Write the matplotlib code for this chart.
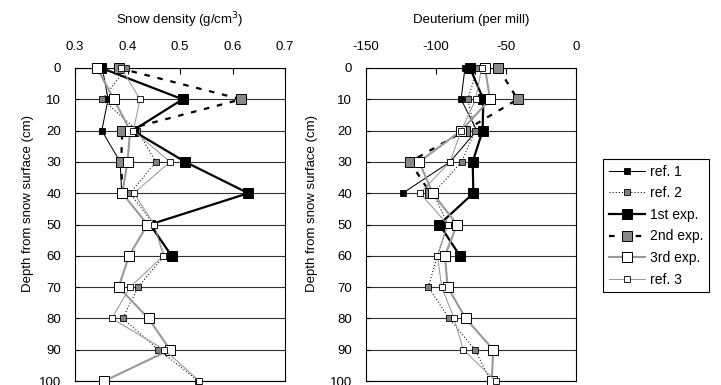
import numpy as np
import matplotlib
matplotlib.use("Agg")
import matplotlib.pyplot as plt

plt.rcParams['font.family'] = ['Liberation Sans', 'DejaVu Sans']
plt.rcParams['axes.unicode_minus'] = False

nan = np.nan
depth = [0, 10, 20, 30, 40, 50, 60, 70, 80, 90, 100]

# Snow density (g/cm3)
dens_ref1 = [0.352, 0.363, 0.351, 0.386, 0.389, nan, nan, nan, nan, nan, nan]
dens_ref2 = [0.398, 0.352, 0.419, 0.454, 0.405, 0.450, 0.470, 0.420, 0.391, 0.459, 0.535]
dens_exp1 = [0.350, 0.505, 0.410, 0.510, 0.630, 0.443, 0.484, nan, nan, nan, nan]
dens_exp2 = [0.383, 0.617, 0.390, 0.388, 0.390, nan, nan, nan, nan, nan, nan]
dens_exp3 = [0.342, 0.374, 0.405, 0.400, 0.390, 0.438, 0.403, 0.383, 0.440, 0.481, 0.356]
dens_ref3 = [0.388, 0.424, 0.411, 0.481, 0.412, 0.451, 0.468, 0.405, 0.370, 0.470, 0.537]

# Deuterium (per mill)
deut_ref1 = [-79.3, -82.1, -70.9, -90.0, -123.8, nan, nan, nan, nan, nan, nan]
deut_ref2 = [-70.2, -77.4, -72.0, -81.7, -102.0, -91.5, -99.0, -105.5, -90.7, -72.1, -61.0]
deut_exp1 = [-75.7, -66.2, -66.7, -73.8, -73.3, -97.6, -82.9, nan, nan, nan, nan]
deut_exp2 = [-55.5, -41.7, -79.3, -118.6, -104.0, nan, nan, nan, nan, nan, nan]
deut_exp3 = [-65.0, -61.4, -82.0, -112.0, -102.4, -85.0, -93.6, -91.7, -78.8, -59.1, -60.2]
deut_ref3 = [-67.4, -71.7, -82.0, -90.0, -111.4, -91.7, -99.0, -95.9, -87.1, -80.5, -57.4]

labels = ["ref. 1", "ref. 2", "1st exp.", "2nd exp.", "3rd exp.", "ref. 3"]
dens_xticks = [0.3, 0.4, 0.5, 0.6, 0.7]
dens_xticklabels = ["0.3", "0.4", "0.5", "0.6", "0.7"]
deut_xticks = [-150, -100, -50, 0]
deut_xticklabels = ["-150", "-100", "-50", "0"]
yticks = depth

styles = [
    dict(color='black', lw=0.75, ls='-', marker='s', ms=3.8, mfc='black', mec='black', mew=0.6),
    dict(color='black', lw=0.75, ls=(0, (1, 2)), marker='s', ms=3.8, mfc='#808080', mec='black', mew=0.6),
    dict(color='black', lw=1.6, ls='-', marker='s', ms=7.2, mfc='black', mec='black', mew=0.7),
    dict(color='black', lw=1.6, ls=(0, (2.5, 3.5)), marker='s', ms=7.2, mfc='#888888', mec='black', mew=0.7),
    dict(color='#999999', lw=1.5, ls='-', marker='s', ms=7.2, mfc='white', mec='black', mew=0.7),
    dict(color='#999999', lw=0.75, ls='-', marker='s', ms=3.8, mfc='white', mec='black', mew=0.6),
]

W, H = 721, 385
fig = plt.figure(figsize=(W / 100, H / 100), dpi=100)

def make_axes(x0px, xlim, xticks, xticklabels, series, title, ylab_x):
    ax = fig.add_axes([x0px / W, 1 - 381 / H, 210 / W, 313 / H])
    ax.set_xlim(*xlim)
    ax.set_ylim(100, 0)
    for y in depth:
        ax.axhline(y, color='#303030', lw=0.8, zorder=1)
    handles = []
    for vals, st, lab in zip(series, styles, labels):
        v = np.array(vals, dtype=float)
        d = np.array(depth, dtype=float)
        m = ~np.isnan(v)
        h, = ax.plot(v[m], d[m], label=lab, zorder=3, dash_capstyle='butt',
                     clip_on=False, **st)
        handles.append(h)
    ax.xaxis.tick_top()
    ax.set_xticks(xticks)
    ax.set_xticklabels(xticklabels)
    ax.set_yticks(yticks)
    ax.set_yticklabels([str(t) for t in yticks])
    ax.tick_params(axis='x', direction='in', length=4, width=0.8, pad=11, labelsize=9.5,
                   top=True, bottom=False)
    ax.tick_params(axis='y', direction='in', length=3, width=0.8, pad=10, labelsize=9.5)
    for s in ax.spines.values():
        s.set_color('black')
        s.set_linewidth(0.8)
    cx = (x0px + 105) / W
    fig.text(cx, 1 - 20 / H, title, ha='center', va='center', fontsize=9.5)
    fig.text(ylab_x / W, 1 - 204 / H, "Depth from snow surface (cm)", rotation=90,
             ha='center', va='center', fontsize=9.5)
    return ax, handles

ax1, handles = make_axes(75, (0.3, 0.7), dens_xticks, dens_xticklabels,
                         [dens_ref1, dens_ref2, dens_exp1, dens_exp2, dens_exp3, dens_ref3],
                         "Snow density (g/cm$^3$)", 28)
ax2, _ = make_axes(366, (-150, 0), deut_xticks, deut_xticklabels,
                   [deut_ref1, deut_ref2, deut_exp1, deut_exp2, deut_exp3, deut_ref3],
                   "Deuterium (per mill)", 312)

leg = fig.legend(handles, labels, loc='upper left', bbox_to_anchor=(603 / W, 1 - 159 / H),
                 frameon=True, fancybox=False, framealpha=1, edgecolor='black',
                 fontsize=10, handlelength=2.65, handletextpad=0.35, borderpad=0.4,
                 labelspacing=0.55, borderaxespad=0)
leg.get_frame().set_linewidth(0.8)

fig.savefig("out.png", dpi=100)
